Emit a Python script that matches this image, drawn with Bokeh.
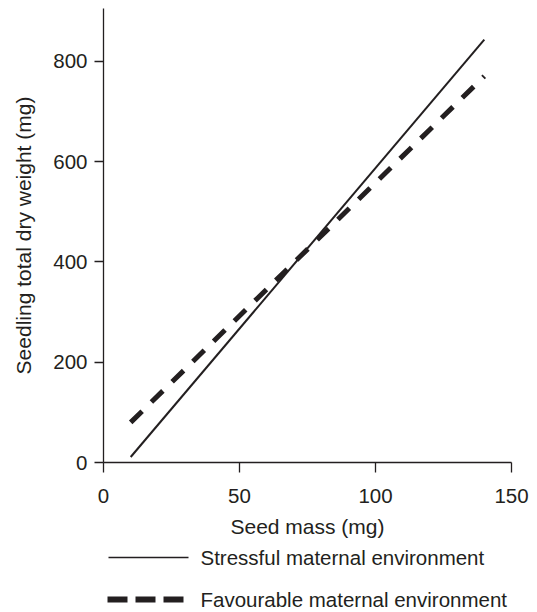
from bokeh.plotting import figure
from bokeh.models import FixedTicker, Range1d, Label
from bokeh.layouts import column
from bokeh.embed import file_html
from bokeh.resources import INLINE

# Data
seed_mass_stress = [10, 140]
weight_stress = [11, 843]
seed_mass_fav = [10, 140]
weight_fav = [80, 770]

x_ticks = [0, 50, 100, 150]
y_ticks = [0, 200, 400, 600, 800]

legend_labels = ["Stressful maternal environment", "Favourable maternal environment"]

FONT = "Liberation Sans"
INK = "#231f20"
W = 537
LEFT = 103
RIGHT = 26

p = figure(width=W, height=540, output_backend="svg", toolbar_location=None,
           x_range=Range1d(0, 150), y_range=Range1d(0, 905),
           min_border_left=LEFT, min_border_right=RIGHT, min_border_top=8, min_border_bottom=76)
p.outline_line_color = None
p.grid.grid_line_color = None

p.line(seed_mass_stress, weight_stress, line_color=INK, line_width=2)
p.line(seed_mass_fav, weight_fav, line_color=INK, line_width=5, line_dash="16 13")

for ax in (p.xaxis, p.yaxis):
    ax.axis_line_color = INK
    ax.axis_line_width = 1.3
    ax.major_tick_line_color = INK
    ax.major_tick_line_width = 1.3
    ax.major_tick_in = 0
    ax.minor_tick_line_color = None
    ax.major_label_text_font = FONT
    ax.major_label_text_font_size = "20.5px"
    ax.major_label_text_color = INK
    ax.axis_label_text_font = FONT
    ax.axis_label_text_font_size = "21px"
    ax.axis_label_text_font_style = "normal"
    ax.axis_label_text_color = INK

p.xaxis.ticker = FixedTicker(ticks=x_ticks)
p.yaxis.ticker = FixedTicker(ticks=y_ticks)
p.xaxis.major_tick_out = 10
p.yaxis.major_tick_out = 9
p.xaxis.major_label_standoff = 16
p.yaxis.major_label_standoff = 7
p.xaxis.axis_label = "Seed mass (mg)"
p.yaxis.axis_label = "Seedling total dry weight (mg)"
p.xaxis.axis_label_standoff = 9
p.yaxis.axis_label_standoff = 15

# Legend drawn in a small companion figure whose units are pixels
LH = 72
lg = figure(width=W, height=LH, output_backend="svg", toolbar_location=None,
            x_range=Range1d(LEFT, W - RIGHT), y_range=Range1d(LH, 0),
            min_border_left=LEFT, min_border_right=RIGHT, min_border_top=0, min_border_bottom=0,
            x_axis_location=None, y_axis_location=None)
lg.outline_line_color = None
lg.grid.grid_line_color = None
row_y = [17, 59]
lg.line([108, 188], [row_y[0], row_y[0]], line_color=INK, line_width=1.5)
lg.line([107, 185], [row_y[1], row_y[1]], line_color=INK, line_width=6, line_dash="20 8")
for lab, yy in zip(legend_labels, row_y):
    lg.add_layout(Label(x=200, y=yy, text=lab, text_font=FONT, text_font_size="20.5px",
                        text_color=INK, text_baseline="middle", text_align="left"))

layout = column(p, lg, spacing=0)
open("out.html", "w").write(file_html(layout, INLINE))
